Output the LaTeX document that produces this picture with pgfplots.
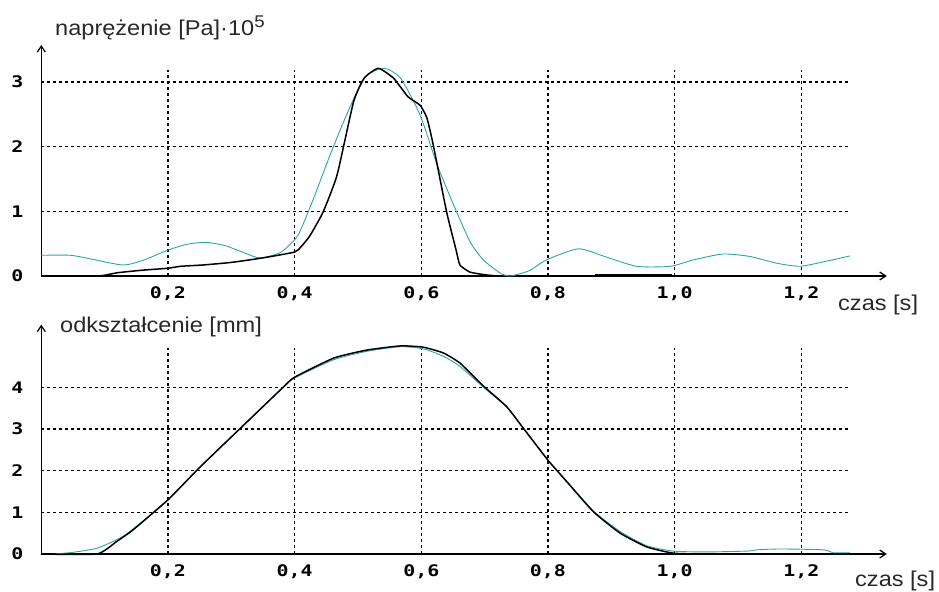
\documentclass[border=0pt]{standalone}
\usepackage{fontspec}
\setmainfont{Liberation Sans}[FakeStretch=1.1]
\newfontfamily\tickfont{DejaVu Sans Mono}[FakeStretch=1.25]
\usepackage{pgfplots}
\pgfplotsset{compat=1.18}
\usetikzlibrary{arrows.meta}

\definecolor{tealc}{RGB}{45,165,165}
\definecolor{labc}{RGB}{40,40,40}

\tikzset{
  grd/.style={line width=1.3bp, dash pattern=on 3bp off 3bp},
  blk/.style={black, line width=1.5bp, smooth, tension=0.3},
  tealline/.style={tealc, line width=0.9bp, smooth, tension=0.4},
}
\pgfplotsset{
  pl/.style={
    anchor=origin,
    clip=false,
    x=633.3bp,
    axis lines=left,
    axis line style={line width=1.2bp, -{Straight Barb[length=6bp,width=8bp]}},
    xmin=0, xmax=1.335, ymin=0,
    major tick length=0pt,
    xtick={0.2,0.4,0.6,0.8,1.0,1.2},
    xticklabels={{0,2},{0,4},{0,6},{0,8},{1,0},{1,2}},
    ticklabel style={font=\tickfont\bfseries\fontsize{16}{16}\selectfont},
    xticklabel style={anchor=center, yshift=-18bp},
    yticklabel style={anchor=center, xshift=-24bp},
  },
}

\begin{document}
\begin{tikzpicture}
\useasboundingbox (0,0) rectangle (939bp,592bp);

% upper: stress
\begin{axis}[pl, at={(41.3bp,316bp)}, y=64.7bp, ymax=3.57,
  ytick={0,1,2,3}, yticklabels={0,1,2,3}]
\foreach \yy in {1,2,3} {\edef\tmp{\noexpand\draw[grd] (axis cs:0,\yy) -- (axis cs:1.277,\yy);}\tmp}
\foreach \xx in {0.2,0.4,0.6,0.8,1.0,1.2} {\edef\tmp{\noexpand\draw[grd] (axis cs:\xx,0) -- (axis cs:\xx,3.18);}\tmp}
\addplot[tealline] coordinates {
 (0,0.32) (0.046,0.32) (0.08,0.26) (0.129,0.17) (0.16,0.24) (0.2,0.40) (0.23,0.49)
 (0.26,0.52) (0.29,0.47) (0.32,0.36) (0.345,0.28) (0.377,0.36) (0.40,0.56) (0.409,0.70)
 (0.43,1.2) (0.456,1.87) (0.482,2.49) (0.51,3.06) (0.54,3.21) (0.567,3.06) (0.598,2.49)
 (0.625,1.72) (0.651,1.10) (0.677,0.53) (0.698,0.25) (0.724,0.05) (0.74,0.0) (0.77,0.08)
 (0.798,0.25) (0.848,0.42) (0.89,0.30) (0.94,0.15) (0.993,0.15) (1.03,0.25) (1.077,0.34)
 (1.12,0.30) (1.16,0.20) (1.198,0.15) (1.24,0.23) (1.277,0.31)
};
\addplot[blk] coordinates {
 (0,0) (0.09,0) (0.12,0.05) (0.16,0.09) (0.2,0.12) (0.22,0.15) (0.255,0.17) (0.3,0.21)
 (0.35,0.28) (0.40,0.37) (0.41,0.45) (0.424,0.62) (0.445,0.99) (0.467,1.56) (0.493,2.69)
 (0.51,3.06) (0.532,3.21) (0.556,3.06) (0.579,2.77) (0.598,2.64) (0.609,2.44) (0.619,2.02)
 (0.640,0.99) (0.655,0.40) (0.661,0.17) (0.677,0.06) (0.70,0.02) (0.72,0)
};
\addplot[black, line width=2.6bp] coordinates {(0.875,0.01) (0.996,0.01)};
\end{axis}

% lower: deformation
\begin{axis}[pl, at={(41.3bp,38bp)}, y=41.7bp, ymax=5.5,
  ytick={0,1,2,3,4}, yticklabels={0,1,2,3,4}]
\foreach \yy in {1,2,3,4} {\edef\tmp{\noexpand\draw[grd] (axis cs:0,\yy) -- (axis cs:1.277,\yy);}\tmp}
\foreach \xx in {0.2,0.4,0.6,0.8,1.0,1.2} {\edef\tmp{\noexpand\draw[grd] (axis cs:\xx,0) -- (axis cs:\xx,4.94);}\tmp}
\addplot[tealline] coordinates {
 (0.02,0) (0.05,0.04) (0.088,0.14) (0.124,0.38) (0.145,0.60) (0.2,1.30) (0.251,2.09)
 (0.314,3.01) (0.382,4.0) (0.40,4.22) (0.462,4.66) (0.514,4.86) (0.567,4.97) (0.603,4.92)
 (0.635,4.74) (0.661,4.50) (0.698,4.00) (0.735,3.52) (0.761,3.02) (0.8,2.25) (0.83,1.74)
 (0.872,1.03) (0.914,0.54) (0.956,0.20) (0.998,0.07) (1.05,0.05) (1.115,0.07) (1.13,0.10)
 (1.167,0.12) (1.235,0.10) (1.25,0.03) (1.277,0.03)
};
\addplot[blk] coordinates {
 (0,0) (0.088,0) (0.119,0.30) (0.145,0.58) (0.2,1.30) (0.251,2.09) (0.314,3.01) (0.382,4.0)
 (0.40,4.24) (0.462,4.70) (0.514,4.89) (0.567,4.99) (0.603,4.96) (0.635,4.82) (0.661,4.58)
 (0.698,4.03) (0.735,3.53) (0.761,3.02) (0.8,2.25) (0.83,1.73) (0.872,1.01) (0.914,0.50)
 (0.956,0.17) (0.998,0.02) (1.05,0) (1.277,0)
};
\end{axis}

\node[anchor=base west, inner sep=0, text=labc, font=\fontsize{21.5}{21.5}\selectfont]
  at (55bp,556bp) {naprężenie [Pa]·10\raisebox{8bp}{\fontsize{17}{17}\selectfont 5}};
\node[anchor=base west, inner sep=0, text=labc, font=\fontsize{21.5}{21.5}\selectfont]
  at (838bp,281bp) {czas [s]};
\node[anchor=base west, inner sep=0, text=labc, font=\fontsize{21.5}{21.5}\selectfont]
  at (60bp,259bp) {odkształcenie [mm]};
\node[anchor=base west, inner sep=0, text=labc, font=\fontsize{21.5}{21.5}\selectfont]
  at (855bp,6bp) {czas [s]};
\end{tikzpicture}
\end{document}
